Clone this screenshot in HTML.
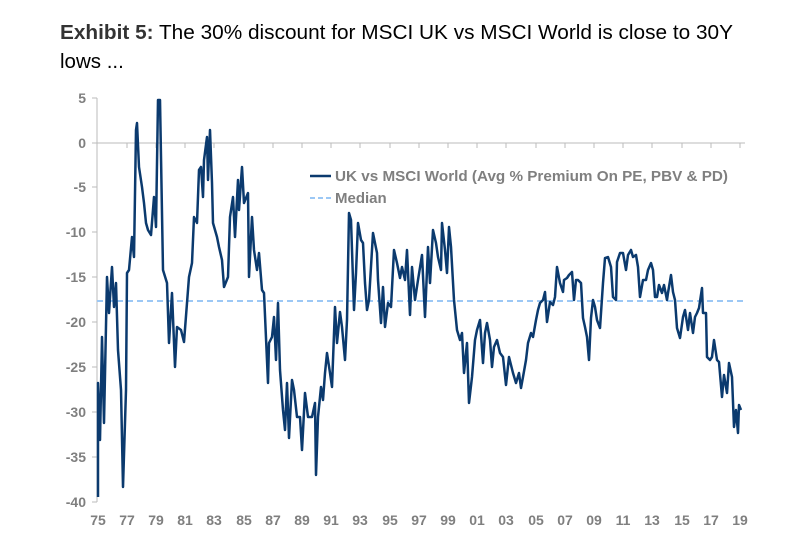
<!DOCTYPE html>
<html><head><meta charset="utf-8"><style>
body{margin:0;background:#fff;width:799px;height:550px;overflow:hidden;font-family:"Liberation Sans",Arial,sans-serif}
</style></head><body>
<svg width="799" height="550" xmlns="http://www.w3.org/2000/svg" style="position:absolute;left:0;top:0">
<text x="60" y="39" font-size="20.5" fill="#000" textLength="673" lengthAdjust="spacingAndGlyphs"><tspan font-weight="bold" fill="#333">Exhibit 5:</tspan>  The 30% discount for MSCI UK vs MSCI World is close to 30Y</text>
<text x="60" y="68" font-size="20.5" fill="#000">lows ...</text>
<g stroke="#bbb" stroke-width="1">
<line x1="97" y1="98" x2="97" y2="502"/>
<line x1="97" y1="143" x2="745" y2="143"/>
<line x1="92" y1="98" x2="97" y2="98"/><line x1="92" y1="143" x2="97" y2="143"/><line x1="92" y1="187" x2="97" y2="187"/><line x1="92" y1="232" x2="97" y2="232"/><line x1="92" y1="277" x2="97" y2="277"/><line x1="92" y1="322" x2="97" y2="322"/><line x1="92" y1="367" x2="97" y2="367"/><line x1="92" y1="412" x2="97" y2="412"/><line x1="92" y1="457" x2="97" y2="457"/><line x1="92" y1="502" x2="97" y2="502"/>
</g>
<g font-size="14" font-weight="bold" fill="#7f7f7f" text-anchor="end">
<text x="86" y="103">5</text><text x="86" y="148">0</text><text x="86" y="192">-5</text><text x="86" y="237">-10</text><text x="86" y="282">-15</text><text x="86" y="327">-20</text><text x="86" y="372">-25</text><text x="86" y="417">-30</text><text x="86" y="462">-35</text><text x="86" y="507">-40</text>
</g>
<g font-size="14" font-weight="bold" fill="#7f7f7f" text-anchor="middle">
<text x="98" y="525">75</text><text x="127" y="525">77</text><text x="156" y="525">79</text><text x="185" y="525">81</text><text x="214" y="525">83</text><text x="244" y="525">85</text><text x="273" y="525">87</text><text x="302" y="525">89</text><text x="331" y="525">91</text><text x="360" y="525">93</text><text x="390" y="525">95</text><text x="419" y="525">97</text><text x="448" y="525">99</text><text x="477" y="525">01</text><text x="506" y="525">03</text><text x="536" y="525">05</text><text x="565" y="525">07</text><text x="594" y="525">09</text><text x="623" y="525">11</text><text x="652" y="525">13</text><text x="682" y="525">15</text><text x="711" y="525">17</text><text x="740" y="525">19</text>
</g>
<g stroke="#bbb">
<line x1="127" y1="143" x2="127" y2="148"/><line x1="156" y1="143" x2="156" y2="148"/><line x1="185" y1="143" x2="185" y2="148"/><line x1="214" y1="143" x2="214" y2="148"/><line x1="244" y1="143" x2="244" y2="148"/><line x1="273" y1="143" x2="273" y2="148"/><line x1="302" y1="143" x2="302" y2="148"/><line x1="331" y1="143" x2="331" y2="148"/><line x1="360" y1="143" x2="360" y2="148"/><line x1="390" y1="143" x2="390" y2="148"/><line x1="419" y1="143" x2="419" y2="148"/><line x1="448" y1="143" x2="448" y2="148"/><line x1="477" y1="143" x2="477" y2="148"/><line x1="506" y1="143" x2="506" y2="148"/><line x1="536" y1="143" x2="536" y2="148"/><line x1="565" y1="143" x2="565" y2="148"/><line x1="594" y1="143" x2="594" y2="148"/><line x1="623" y1="143" x2="623" y2="148"/><line x1="652" y1="143" x2="652" y2="148"/><line x1="682" y1="143" x2="682" y2="148"/><line x1="711" y1="143" x2="711" y2="148"/><line x1="740" y1="143" x2="740" y2="148"/>
</g>
<line x1="97" y1="301" x2="745" y2="301" stroke="#9cc8f5" stroke-width="2" stroke-dasharray="6,4"/>
<polyline fill="none" stroke="#0b3a6e" stroke-width="2.5" stroke-linejoin="round" points="98,497 98,383 100,440 102,337 104,423 107,277 109,313 112,267 114,307 116,283 118,350 121,390 123,487 126,390 127,273 129,270 132,237 134,257 136,130 137,123 139,167 142,187 144,203 146,223 148,230 151,235 154,197 156,227 158,100 160,100 163,270 167,283 169,343 172,293 175,367 177,327 181,330 184,342 187,303 189,277 192,263 194,217 197,223 199,170 201,167 203,197 204,160 207,137 208,180 210,130 212,183 213,223 217,237 219,247 222,260 224,287 228,277 230,217 233,197 235,237 238,180 239,210 242,167 244,203 248,193 249,277 252,217 254,250 257,270 259,253 262,290 264,293 268,383 269,343 272,337 274,317 276,360 278,303 280,370 283,410 285,430 287,383 289,438 292,380 294,390 297,417 300,417 302,450 305,393 308,417 312,417 315,403 316,475 318,417 321,387 323,400 325,373 327,353 330,373 332,387 335,307 337,343 340,312 342,327 345,360 347,320 349,213 351,220 354,310 356,273 358,223 361,240 363,243 365,283 367,310 369,300 373,233 377,253 378,280 381,323 383,287 385,327 388,303 391,307 394,250 397,263 400,278 402,267 405,280 407,250 410,315 412,267 415,300 418,280 422,255 425,317 428,247 430,283 433,230 436,243 438,257 441,270 442,223 445,250 447,273 449,227 451,247 454,300 457,330 460,340 462,333 464,373 467,343 469,403 472,377 475,340 477,330 480,320 483,363 485,333 487,323 490,340 492,367 494,347 497,340 500,353 503,357 506,385 509,357 513,373 516,383 519,373 521,388 523,377 526,360 528,343 531,333 533,337 536,320 538,310 540,303 543,300 545,292 547,322 550,302 553,305 555,297 557,267 560,283 563,292 564,280 567,278 569,275 572,272 574,300 576,280 578,280 581,283 583,318 585,327 587,337 589,360 591,318 593,300 595,307 597,320 600,328 603,283 605,258 608,257 611,267 613,297 616,300 617,262 620,253 623,253 626,270 628,255 631,250 633,257 636,255 638,267 640,297 643,280 646,280 648,270 651,263 653,270 655,297 657,297 659,285 662,293 664,285 667,300 668,293 671,275 673,292 675,300 677,328 680,338 683,317 685,310 688,330 690,313 693,333 695,317 697,313 699,308 702,288 703,313 706,313 707,357 710,360 712,357 714,340 717,360 719,362 722,397 724,375 727,393 729,363 732,377 734,427 736,410 738,433 739,405 741,410"/>
<line x1="310" y1="176" x2="331" y2="176" stroke="#0b3a6e" stroke-width="2.5"/>
<text x="335" y="181" font-size="15" font-weight="bold" fill="#7f7f7f" textLength="393" lengthAdjust="spacingAndGlyphs">UK vs MSCI World (Avg % Premium On PE, PBV &amp; PD)</text>
<line x1="310" y1="198" x2="331" y2="198" stroke="#9cc8f5" stroke-width="2" stroke-dasharray="5,3"/>
<text x="335" y="203" font-size="15" font-weight="bold" fill="#7f7f7f">Median</text>
</svg>
</body></html>
